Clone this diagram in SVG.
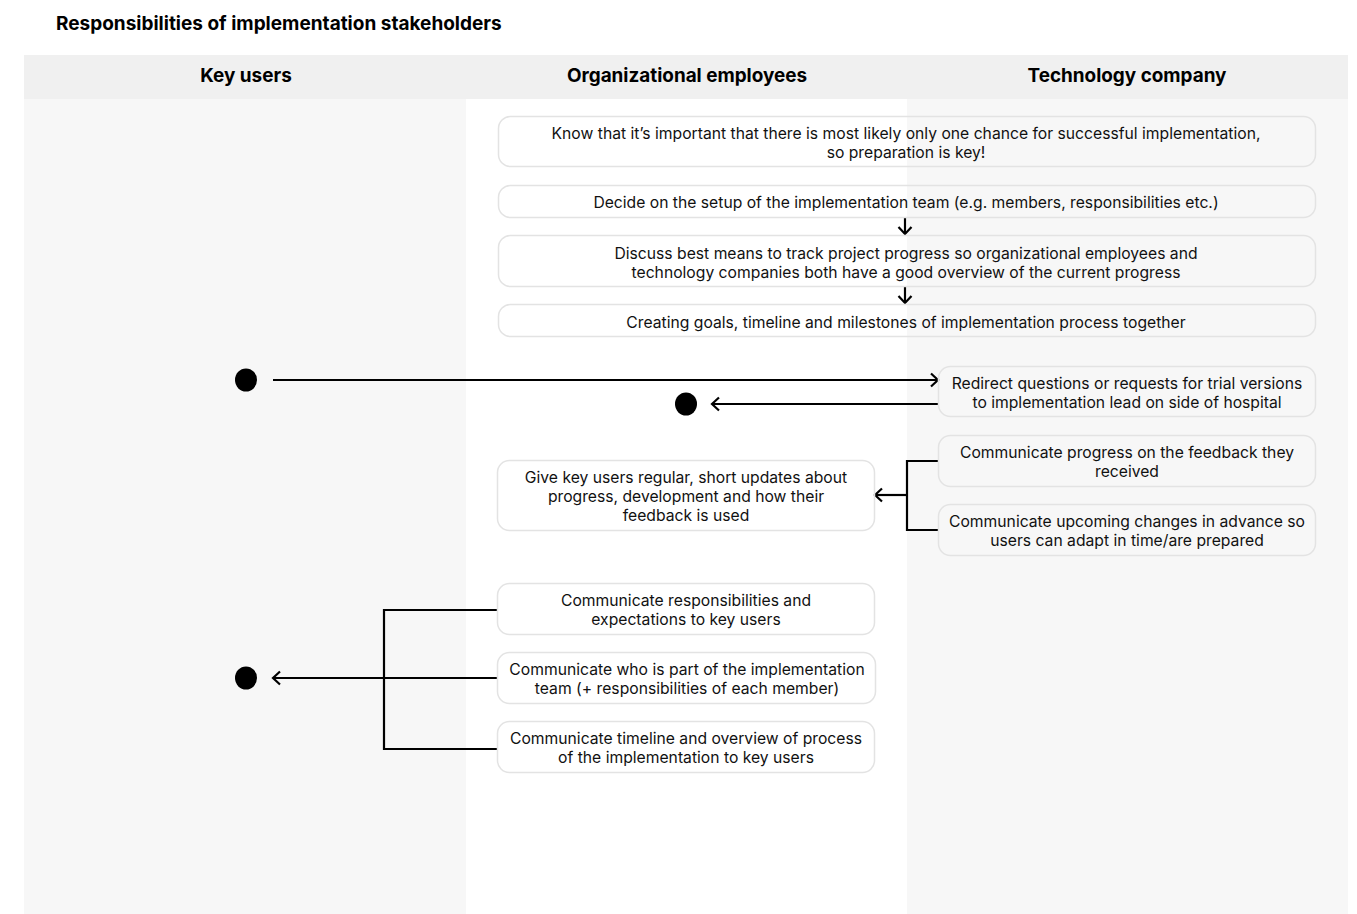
<svg xmlns="http://www.w3.org/2000/svg" width="1357" height="914" viewBox="0 0 1357 914">
  <style>
    .title { font-family: Inter, "Liberation Sans", sans-serif; font-size: 19px; font-weight: 700; fill: #000; }
    .lane-head { font-family: Inter, "Liberation Sans", sans-serif; font-size: 18.9px; font-weight: 700; fill: #000; text-anchor: middle; }
    .box { fill: none; stroke: #e3e3e3; stroke-width: 1.5; }
    .label { font-family: Inter, "Liberation Sans", sans-serif; font-size: 15.7px; fill: #111; text-anchor: middle; }
    .wire { fill: none; stroke: #000; stroke-width: 2.2; }
    .dot { fill: #000; }
  </style>
  <defs>
    <marker id="chevron" viewBox="0 0 14 16" refX="12" refY="8" markerWidth="14" markerHeight="16" markerUnits="userSpaceOnUse" orient="auto">
      <path d="M5 1.5 L12 8 L5 14.5" fill="none" stroke="#000" stroke-width="2.2"/>
    </marker>
  </defs>

  <rect width="1357" height="914" fill="#fff"/>

  <!-- swimlanes -->
  <g id="lanes">
    <rect x="24" y="55" width="442" height="859" fill="#f7f7f7"/>
    <rect x="907" y="55" width="441" height="859" fill="#f7f7f7"/>
    <rect x="24" y="55" width="1324" height="44" fill="#f0f0f0"/>
    <text class="lane-head" x="246" y="82">Key users</text>
    <text class="lane-head" x="687" y="82">Organizational employees</text>
    <text class="lane-head" x="1127" y="82">Technology company</text>
  </g>

  <text class="title" x="56" y="30">Responsibilities of implementation stakeholders</text>

  <!-- connectors -->
  <g id="connectors">
    <path class="wire" d="M905 218 V234" marker-end="url(#chevron)"/>
    <path class="wire" d="M905 287 V303" marker-end="url(#chevron)"/>
    <path class="wire" d="M273 380 H938" marker-end="url(#chevron)"/>
    <path class="wire" d="M938 404 H712" marker-end="url(#chevron)"/>
    <path class="wire" d="M938 461 H907 V530 H938"/>
    <path class="wire" d="M907 495 H875" marker-end="url(#chevron)"/>
    <path class="wire" d="M497 610 H384 V749 H497"/>
    <path class="wire" d="M497 678 H273" marker-end="url(#chevron)"/>
  </g>

  <!-- start / end points -->
  <g id="dots">
    <ellipse class="dot" cx="246" cy="380" rx="11" ry="11.5"/>
    <ellipse class="dot" cx="686" cy="404" rx="11" ry="11.5"/>
    <ellipse class="dot" cx="246" cy="678" rx="11" ry="11.5"/>
  </g>

  <!-- shared responsibilities -->
  <g id="node-preparation">
    <rect class="box" x="498.5" y="116.5" width="817" height="50" rx="12"/>
    <text class="label" x="906" y="138.5">Know that it’s important that there is most likely only one chance for successful implementation,</text>
    <text class="label" x="906" y="157.5">so preparation is key!</text>
  </g>
  <g id="node-team-setup">
    <rect class="box" x="498.5" y="185.5" width="817" height="32" rx="12"/>
    <text class="label" x="906" y="207.5">Decide on the setup of the implementation team (e.g. members, responsibilities etc.)</text>
  </g>
  <g id="node-tracking">
    <rect class="box" x="498.5" y="235.5" width="817" height="51" rx="12"/>
    <text class="label" x="906" y="258.5">Discuss best means to track project progress so organizational employees and</text>
    <text class="label" x="906" y="277.5">technology companies both have a good overview of the current progress</text>
  </g>
  <g id="node-goals">
    <rect class="box" x="498.5" y="304.5" width="817" height="32" rx="12"/>
    <text class="label" x="906" y="327.5">Creating goals, timeline and milestones of implementation process together</text>
  </g>

  <!-- technology company -->
  <g id="node-redirect">
    <rect class="box" x="938.5" y="366.5" width="377" height="50" rx="12"/>
    <text class="label" x="1127" y="388.5">Redirect questions or requests for trial versions</text>
    <text class="label" x="1127" y="407.5">to implementation lead on side of hospital</text>
  </g>
  <g id="node-feedback-progress">
    <rect class="box" x="938.5" y="435.5" width="377" height="51" rx="12"/>
    <text class="label" x="1127" y="457.5">Communicate progress on the feedback they</text>
    <text class="label" x="1127" y="476.5">received</text>
  </g>
  <g id="node-upcoming-changes">
    <rect class="box" x="938.5" y="504.5" width="377" height="51" rx="12"/>
    <text class="label" x="1127" y="526.5">Communicate upcoming changes in advance so</text>
    <text class="label" x="1127" y="545.5">users can adapt in time/are prepared</text>
  </g>

  <!-- organizational employees -->
  <g id="node-updates">
    <rect class="box" x="497.5" y="460.5" width="377" height="70" rx="12"/>
    <text class="label" x="686" y="482.5">Give key users regular, short updates about</text>
    <text class="label" x="686" y="501.5">progress, development and how their</text>
    <text class="label" x="686" y="520.5">feedback is used</text>
  </g>
  <g id="node-responsibilities">
    <rect class="box" x="497.5" y="583.5" width="377" height="51" rx="12"/>
    <text class="label" x="686" y="605.5">Communicate responsibilities and</text>
    <text class="label" x="686" y="624.5">expectations to key users</text>
  </g>
  <g id="node-team-members">
    <rect class="box" x="497.5" y="652.5" width="378" height="51" rx="12"/>
    <text class="label" x="687" y="674.5">Communicate who is part of the implementation</text>
    <text class="label" x="687" y="693.5">team (+ responsibilities of each member)</text>
  </g>
  <g id="node-timeline">
    <rect class="box" x="497.5" y="721.5" width="377" height="51" rx="12"/>
    <text class="label" x="686" y="743.5">Communicate timeline and overview of process</text>
    <text class="label" x="686" y="762.5">of the implementation to key users</text>
  </g>
</svg>
